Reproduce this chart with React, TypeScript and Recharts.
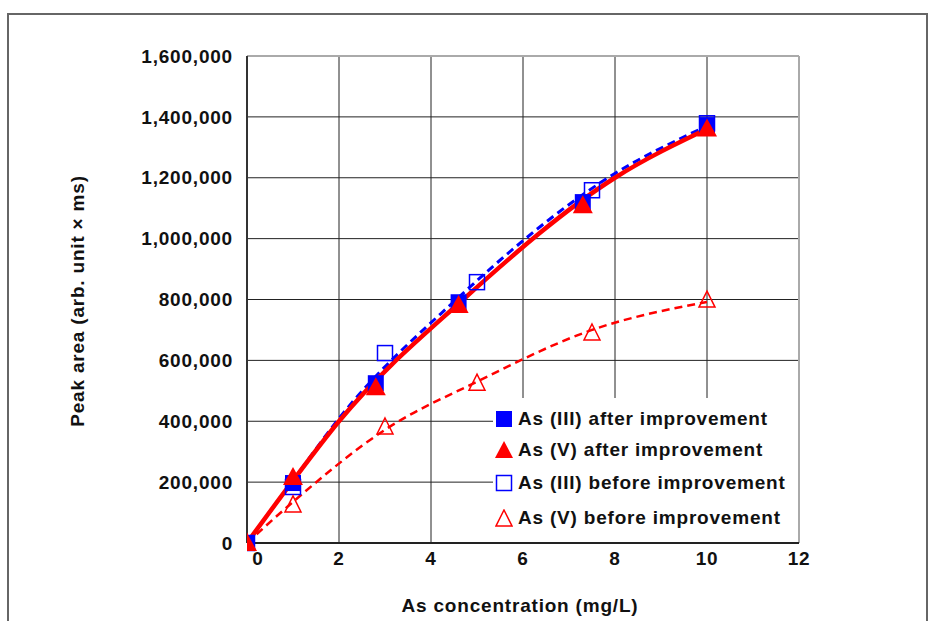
import { ComposedChart, Line, Scatter, XAxis, YAxis, CartesianGrid, ReferenceLine, Label } from 'recharts';

// measured points
const xAfter = [0, 1, 2.8, 4.6, 7.3, 10];
const as3After = [0, 197000, 525000, 791000, 1120000, 1373000];
const as5After = [0, 217000, 512000, 782000, 1110000, 1362000];
const xBefore = [0, 1, 3, 5, 7.5, 10];
const as3Before = [0, 184000, 624000, 857000, 1159000, 1379000];
const as5Before = [0, 125000, 381000, 525000, 690000, 798000];

// trend curves
const fitAfterX = [0, 1, 2, 4.7, 8, 10];
const fitAfterY = [0, 205000, 400000, 800000, 1200000, 1360000];
const fitAs3BeforeX = [0, 1, 1.95, 4.55, 7.85, 10];
const fitAs3BeforeY = [0, 205000, 400000, 800000, 1200000, 1370000];
const fitAs5BeforeX = [0, 1, 3, 5, 7.5, 10];
const fitAs5BeforeY = [0, 135000, 372000, 530000, 700000, 792000];

const xTicks = [0, 2, 4, 6, 8, 10, 12];
const yTicks = [0, 200000, 400000, 600000, 800000, 1000000, 1200000, 1400000, 1600000];

const legendLabels = [
  'As (III) after improvement',
  'As (V) after improvement',
  'As (III) before improvement',
  'As (V) before improvement',
];

const zip = (xs: number[], ys: number[]) => xs.map((x, i) => ({ x, y: ys[i] }));

const FONT = '"Liberation Sans", Arial, sans-serif';
const FS = 19;
const LS = 0.8;
const BLUE = '#0000ff';
const RED = '#ff0000';

const FilledSquare = (p: any) => (
  <rect x={p.cx - 8} y={p.cy - 8} width={16} height={16} fill={BLUE} />
);
const FilledTriangle = (p: any) => (
  <path d={`M${p.cx},${p.cy - 10} L${p.cx + 10},${p.cy + 8} L${p.cx - 10},${p.cy + 8} Z`} fill={RED} />
);
const OpenSquare = (p: any) => (
  <rect x={p.cx - 7.5} y={p.cy - 7.5} width={15} height={15} fill="none" stroke={BLUE} strokeWidth={1.5} />
);
const OpenTriangle = (p: any) => (
  <path d={`M${p.cx},${p.cy - 9} L${p.cx + 8},${p.cy + 7} L${p.cx - 8},${p.cy + 7} Z`} fill="none" stroke={RED} strokeWidth={1.5} />
);

const XTick = (p: any) => {
  const v = p.payload.value;
  return (
    <text x={p.x + (v === 0 ? 11 : 0)} y={p.y + 20} textAnchor="middle" fontFamily={FONT} fontWeight="bold" fontSize={FS} letterSpacing={LS} fill="#111">
      {v}
    </text>
  );
};

const legendIcons = [
  <svg width={18} height={18}><rect x={1} y={1} width={16} height={16} fill={BLUE} /></svg>,
  <svg width={18} height={18}><path d="M9,0 L18,17 L0,17 Z" fill={RED} /></svg>,
  <svg width={18} height={18}><rect x={1.5} y={1.5} width={15} height={15} fill="none" stroke={BLUE} strokeWidth={1.5} /></svg>,
  <svg width={18} height={18}><path d="M9,1 L17,17 L1,17 Z" fill="none" stroke={RED} strokeWidth={1.5} /></svg>,
];
const legendRowsY = [420, 451, 484, 519];

export default function App() {
  return (
    <div style={{ position: 'absolute', left: 0, top: 0, width: 929, height: 621, background: '#fff', overflow: 'hidden' }}>
      <div style={{ position: 'absolute', left: 7, top: 13, width: 917, height: 640, border: '2px solid #666' }} />
      <div style={{ position: 'absolute', left: 0, top: 0 }}>
        <ComposedChart width={929} height={621} margin={{ top: 56, right: 130, left: 0, bottom: 48 }}>
          <CartesianGrid stroke="#222" strokeWidth={1} horizontalValues={yTicks} verticalValues={xTicks} />
          <XAxis
            type="number"
            dataKey="x"
            domain={[0, 12]}
            ticks={xTicks}
            height={30}
            tickSize={0}
            tick={<XTick />}
            axisLine={{ stroke: '#222', strokeWidth: 2 }}
            allowDataOverflow
          >
            <Label
              content={() => (
                <text x={520} y={612} textAnchor="middle" fontFamily={FONT} fontWeight="bold" fontSize={FS} letterSpacing={LS} fill="#111">
                  As concentration (mg/L)
                </text>
              )}
            />
          </XAxis>
          <YAxis
            type="number"
            domain={[0, 1600000]}
            ticks={yTicks}
            width={247}
            tickSize={0}
            tickMargin={14}
            tickFormatter={(v: number) => v.toLocaleString('en-US')}
            tick={{ fontFamily: FONT, fontWeight: 'bold', fontSize: FS, letterSpacing: LS, fill: '#111' }}
            axisLine={{ stroke: '#333', strokeWidth: 2 }}
          >
            <Label
              content={() => (
                <text x={84} y={301} transform="rotate(-90 84 301)" textAnchor="middle" fontFamily={FONT} fontWeight="bold" fontSize={FS} letterSpacing={LS} fill="#111">
                  Peak area (arb. unit × ms)
                </text>
              )}
            />
          </YAxis>
          <ReferenceLine y={1600000} stroke="#aaa" strokeWidth={2} />
          <ReferenceLine x={12} stroke="#aaa" strokeWidth={2} />
          <Scatter data={zip(xBefore, as3Before)} dataKey="y" shape={<OpenSquare />} isAnimationActive={false} />
          <Scatter data={zip(xBefore, as5Before)} dataKey="y" shape={<OpenTriangle />} isAnimationActive={false} />
          <Scatter data={zip(xAfter, as3After)} dataKey="y" shape={<FilledSquare />} isAnimationActive={false} />
          <Scatter data={zip(xAfter, as5After)} dataKey="y" shape={<FilledTriangle />} isAnimationActive={false} />
          <Line data={zip(fitAs5BeforeX, fitAs5BeforeY)} dataKey="y" type="monotone" stroke={RED} strokeWidth={2.5} strokeDasharray="8 5" dot={false} isAnimationActive={false} />
          <Line data={zip(fitAs3BeforeX, fitAs3BeforeY)} dataKey="y" type="monotone" stroke={BLUE} strokeWidth={3} strokeDasharray="8 5" dot={false} isAnimationActive={false} />
          <Line data={zip(fitAfterX, fitAfterY)} dataKey="y" type="monotone" stroke={RED} strokeWidth={4.5} dot={false} isAnimationActive={false} />
        </ComposedChart>
      </div>
      <div style={{ position: 'absolute', left: 493, top: 398, width: 305, height: 144, background: '#fff' }}>
        {legendLabels.map((t, i) => (
          <div
            key={t}
            style={{
              position: 'absolute',
              left: 2,
              top: legendRowsY[i] - 398 - 12,
              display: 'flex',
              alignItems: 'center',
              gap: 5,
              fontFamily: FONT,
              fontWeight: 'bold',
              fontSize: FS,
              letterSpacing: LS,
              color: '#111',
              whiteSpace: 'nowrap',
            }}
          >
            {legendIcons[i]}
            <span>{t}</span>
          </div>
        ))}
      </div>
    </div>
  );
}
